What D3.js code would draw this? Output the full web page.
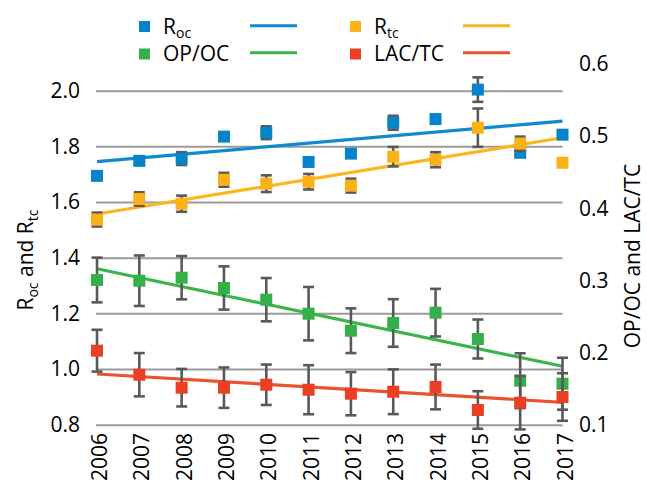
<!DOCTYPE html>
<html><head><meta charset="utf-8">
<script src="https://cdn.jsdelivr.net/npm/d3@7"></script>
<style>
html,body{margin:0;padding:0;background:#fff;}
svg text{font-family:"Open Sans","Noto Sans",sans-serif;fill:#000;}
</style></head>
<body>
<svg id="chart" width="647" height="492"></svg>
<script>
const years = ["2006","2007","2008","2009","2010","2011","2012","2013","2014","2015","2016","2017"];
const roc = [1.694,1.748,1.756,1.835,1.849,1.744,1.774,1.885,1.898,2.004,1.777,1.842];
const rocErr = [0.01,0.012,0.023,0.015,0.023,0.012,0.012,0.025,0.015,0.044,0.012,0.01];
const rtc = [1.537,1.611,1.594,1.680,1.666,1.673,1.659,1.763,1.752,1.867,1.810,1.741];
const rtcErr = [0.025,0.024,0.029,0.025,0.030,0.028,0.025,0.035,0.027,0.069,0.025,0.01];
const opoc = [0.3006,0.2996,0.3038,0.2895,0.2733,0.2539,0.2303,0.241,0.2553,0.2188,0.161,0.1568];
const opocErr = [0.031,0.035,0.030,0.030,0.030,0.037,0.031,0.033,0.033,0.027,0.038,0.036];
const lactc = [0.2026,0.1693,0.1513,0.1513,0.1554,0.1485,0.143,0.1457,0.1523,0.1204,0.1305,0.1384];
const lactcErr = [0.029,0.030,0.026,0.028,0.028,0.034,0.030,0.031,0.031,0.026,0.037,0.033];
// trend line end values (first year, last year)
const rocTrend = [1.745,1.891];
const rtcTrend = [1.557,1.831];
const opocTrend = [0.3162,0.181];
const lactcTrend = [0.1703,0.131];
const leftTicks = [0.8,1.0,1.2,1.4,1.6,1.8,2.0];
const rightTicks = [0.1,0.2,0.3,0.4,0.5,0.6];

const svg = d3.select("#chart");
const x = d3.scalePoint().domain(years).range([97,562.5]).padding(0);
const yL = d3.scaleLinear().domain([0.8,2.0]).range([424.7,90.7]);
const yR = d3.scaleLinear().domain([0.1,0.6]).range([424.7,64]);
const FS = 21;

// left axis with gridlines
const gL = svg.append("g").attr("transform","translate(96,0)")
  .call(d3.axisLeft(yL).tickValues(leftTicks).tickFormat(d3.format(".1f"))
        .tickSizeInner(-466.5).tickSizeOuter(0).tickPadding(16));
gL.select(".domain").remove();
gL.selectAll(".tick line").attr("stroke","#9a9a9a").attr("stroke-width",2);
gL.selectAll(".tick text").attr("font-size",FS).attr("fill","#000");

// right axis
const gR = svg.append("g").attr("transform","translate(562,0)")
  .call(d3.axisRight(yR).tickValues(rightTicks).tickFormat(d3.format(".1f"))
        .tickSize(0).tickPadding(17));
gR.select(".domain").remove();
gR.selectAll(".tick text").attr("font-size",FS).attr("fill","#000");

// bottom axis
const gB = svg.append("g").attr("transform","translate(0,433)")
  .call(d3.axisBottom(x).tickSize(0).tickPadding(0));
gB.select(".domain").remove();
gB.selectAll(".tick text").attr("font-size",FS).attr("fill","#000")
  .attr("text-anchor","end").attr("transform","rotate(-90)")
  .attr("x",0).attr("y",2).attr("dy","0.36em");

// axis titles
const tl = svg.append("text").attr("transform","translate(33,260) rotate(-90)")
  .attr("text-anchor","middle").attr("font-size",FS);
tl.append("tspan").text("R");
tl.append("tspan").text("oc").attr("font-size",14).attr("dy",5);
tl.append("tspan").text(" and R").attr("dy",-5);
tl.append("tspan").text("tc").attr("font-size",14).attr("dy",5);

svg.append("text").attr("transform","translate(640,256) rotate(-90)")
  .attr("text-anchor","middle").attr("font-size",FS).text("OP/OC and LAC/TC");

const series = [
  {name:"Roc", vals:roc, err:rocErr, trend:rocTrend, y:yL, col:"#0584c9", lcol:"#0f8ace"},
  {name:"OP/OC", vals:opoc, err:opocErr, trend:opocTrend, y:yR, col:"#34b04a", lcol:"#3ab54a"},
  {name:"Rtc", vals:rtc, err:rtcErr, trend:rtcTrend, y:yL, col:"#fdb119", lcol:"#fdb51e"},
  {name:"LAC/TC", vals:lactc, err:lactcErr, trend:lactcTrend, y:yR, col:"#ec3e23", lcol:"#e8532b"}
];

// trend lines
series.forEach(s=>{
  svg.append("line")
    .attr("x1",x(years[0])).attr("x2",x(years[years.length-1]))
    .attr("y1",s.y(s.trend[0])).attr("y2",s.y(s.trend[1]))
    .attr("stroke",s.lcol).attr("stroke-width",3.2);
});

const M = 12, CAP = 11;
series.forEach(s=>{
  const g = svg.append("g");
  const d = years.map((yr,i)=>({yr, v:s.vals[i], e:s.err[i]}));
  const eb = g.selectAll(".eb").data(d).enter().append("g").attr("stroke","#595959").attr("stroke-width",2.6);
  eb.append("line").attr("x1",q=>x(q.yr)).attr("x2",q=>x(q.yr))
    .attr("y1",q=>s.y(q.v+q.e)).attr("y2",q=>s.y(q.v-q.e));
  eb.append("line").attr("x1",q=>x(q.yr)-CAP/2).attr("x2",q=>x(q.yr)+CAP/2)
    .attr("y1",q=>s.y(q.v+q.e)).attr("y2",q=>s.y(q.v+q.e));
  eb.append("line").attr("x1",q=>x(q.yr)-CAP/2).attr("x2",q=>x(q.yr)+CAP/2)
    .attr("y1",q=>s.y(q.v-q.e)).attr("y2",q=>s.y(q.v-q.e));
  g.selectAll(".m").data(d).enter().append("rect")
    .attr("x",q=>x(q.yr)-M/2).attr("y",q=>s.y(q.v)-M/2)
    .attr("width",M).attr("height",M).attr("fill",s.col);
});

// legend
const leg = [
  {s:series[0], mx:144.5, my:26.5, lx:[250,297], ly:25.7, label:["R","oc"]},
  {s:series[2], mx:355.5, my:26.5, lx:[463,510], ly:25.7, label:["R","tc"]},
  {s:series[1], mx:144.5, my:54, lx:[250,297], ly:52.7, label:["OP/OC",""]},
  {s:series[3], mx:355.5, my:54, lx:[463,510], ly:52.7, label:["LAC/TC",""]}
];
leg.forEach(l=>{
  svg.append("rect").attr("x",l.mx-5.5).attr("y",l.my-5.5).attr("width",11).attr("height",11).attr("fill",l.s.col);
  const t = svg.append("text").attr("x",l.mx+18.5).attr("y",l.my+7).attr("font-size",FS);
  t.append("tspan").text(l.label[0]);
  if(l.label[1]) t.append("tspan").text(l.label[1]).attr("font-size",14).attr("dy",4);
  svg.append("line").attr("x1",l.lx[0]).attr("x2",l.lx[1]).attr("y1",l.ly).attr("y2",l.ly)
    .attr("stroke",l.s.lcol).attr("stroke-width",3);
});
</script>
</body></html>
